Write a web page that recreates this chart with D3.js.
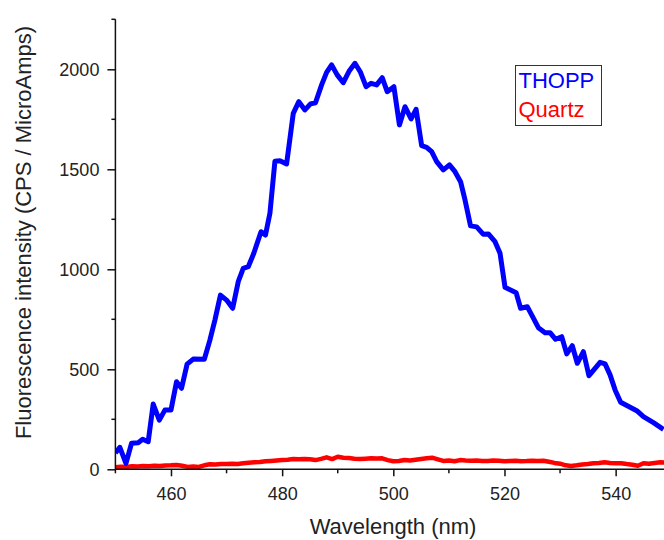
<!DOCTYPE html>
<html>
<head>
<meta charset="utf-8">
<script src="https://cdn.jsdelivr.net/npm/d3@7"></script>
<style>
  body { margin: 0; background: #fff; }
  text { font-family: "Liberation Sans", Arial, sans-serif; }
</style>
</head>
<body>
<div id="chart"></div>
<script>
// THOPP emission
let thoppNm = [450.0, 450.8, 451.9, 452.9, 454.1, 454.9, 455.9, 456.8, 457.9, 458.9,
    460.0, 461.0, 461.9, 462.9, 464.0, 466.0, 467.0, 467.9, 468.9, 470.0,
    471.1, 472.1, 473.0, 473.9, 474.9, 476.2, 477.0, 477.8, 478.7, 479.6,
    480.8, 482.0, 483.0, 484.1, 485.1, 486.0, 487.1, 488.0, 488.9, 489.9,
    491.0, 492.1, 493.1, 494.1, 495.1, 496.0, 497.0, 498.0, 498.9, 500.1,
    501.1, 502.1, 503.2, 504.1, 505.1, 506.0, 506.9, 507.8, 509.0, 510.1,
    511.1, 512.1, 512.9, 513.9, 515.0, 516.2, 517.1, 518.3, 519.2, 520.1,
    522.1, 522.9, 524.1, 526.1, 527.3, 528.2, 529.2, 530.3, 531.2, 532.2,
    533.1, 534.2, 535.2, 537.2, 538.1, 539.0, 539.9, 540.9, 543.8, 545.0,
    546.8, 548.6];
let thoppCps = [82, 110, 30, 130, 133, 150, 138, 326, 246, 296,
    296, 438, 405, 526, 551, 550, 646, 746, 871, 846,
    805, 938, 1005, 1013, 1080, 1188, 1171, 1280, 1540, 1543,
    1527, 1780, 1838, 1797, 1827, 1833, 1922, 1985, 2022, 1972,
    1933, 1993, 2030, 1985, 1913, 1930, 1922, 1958, 1888, 1913,
    1722, 1813, 1752, 1800, 1618, 1610, 1588, 1538, 1497, 1522,
    1488, 1438, 1347, 1217, 1212, 1175, 1177, 1138, 1080, 910,
    883, 805, 813, 708, 683, 683, 650, 663, 577, 618,
    530, 588, 468, 535, 527, 472, 397, 335, 293, 263,
    233, 200];

// Quartz background
let quartzNm = d3.range(450, 550, 1);
let quartzCps = [10, 13, 12, 15, 14, 17, 15, 18, 16, 19,
    20, 22, 18, 12, 14, 12, 20, 25, 24, 26,
    27, 28, 27, 30, 33, 35, 36, 40, 42, 44,
    46, 48, 51, 50, 52, 50, 46, 52, 60, 51,
    63, 58, 56, 53, 51, 53, 55, 54, 55, 46,
    40, 42, 46, 44, 48, 52, 55, 58, 50, 42,
    44, 40, 46, 44, 43, 44, 42, 42, 44, 43,
    40, 42, 43, 40, 41, 43, 42, 43, 38, 32,
    28, 20, 17, 20, 24, 26, 30, 32, 35, 32,
    30, 30, 26, 23, 18, 30, 28, 32, 35, 34];

let xMajor = [460, 480, 500, 520, 540];
let xMinor = [450, 470, 490, 510, 530];
let yMajor = [0, 500, 1000, 1500, 2000];
let yMinor = [250, 750, 1250, 1750, 2250];

let seriesNames = ["THOPP", "Quartz"];
let seriesColors = ["#0000ff", "#ff0000"];

let width = 664, height = 540;
let plotLeft = 115.4, plotTop = 19.3, plotRight = 664, plotBottom = 469.3;

let svg = d3.select("#chart").append("svg")
    .attr("width", width)
    .attr("height", height);

let x = d3.scaleLinear().domain([450, 548.7]).range([plotLeft, plotRight]);
let y = d3.scaleLinear().domain([0, 2250]).range([plotBottom, plotTop]);

svg.append("clipPath").attr("id", "plotclip")
    .append("rect")
    .attr("x", plotLeft).attr("y", 0)
    .attr("width", plotRight - plotLeft).attr("height", plotBottom + 4);

let line = d3.line()
    .x(d => x(d[0]))
    .y(d => y(d[1]));

let plot = svg.append("g").attr("clip-path", "url(#plotclip)");

plot.append("path")
    .datum(d3.zip(quartzNm, quartzCps))
    .attr("d", line)
    .attr("fill", "none")
    .attr("stroke", seriesColors[1])
    .attr("stroke-width", 4.5)
    .attr("stroke-linejoin", "round");

plot.append("path")
    .datum(d3.zip(thoppNm, thoppCps))
    .attr("d", line)
    .attr("fill", "none")
    .attr("stroke", seriesColors[0])
    .attr("stroke-width", 5)
    .attr("stroke-linejoin", "round");

// x axis
let xAxis = svg.append("g")
    .attr("transform", "translate(0," + plotBottom + ")")
    .call(d3.axisBottom(x).tickValues(xMajor).tickSize(7).tickPadding(11).tickFormat(d3.format("d")));
xAxis.append("g").selectAll("line").data(xMinor).join("line")
    .attr("x1", d => x(d)).attr("x2", d => x(d))
    .attr("y1", 0).attr("y2", 4)
    .attr("stroke", "#111").attr("stroke-width", 1.5);

// y axis
let yAxis = svg.append("g")
    .attr("transform", "translate(" + plotLeft + ",0)")
    .call(d3.axisLeft(y).tickValues(yMajor).tickSize(8).tickPadding(8).tickFormat(d3.format("d")));
yAxis.append("g").selectAll("line").data(yMinor).join("line")
    .attr("y1", d => y(d)).attr("y2", d => y(d))
    .attr("x1", 0).attr("x2", -4)
    .attr("stroke", "#111").attr("stroke-width", 1.5);

svg.selectAll(".domain")
    .attr("stroke", "#111")
    .attr("stroke-width", 1.5);
xAxis.select(".domain").attr("d", "M" + plotLeft + ",0H" + plotRight);
yAxis.select(".domain").attr("d", "M0," + plotBottom + "V" + plotTop);
svg.selectAll(".tick line").attr("stroke", "#111").attr("stroke-width", 1.5);
svg.selectAll(".tick text")
    .attr("fill", "#222")
    .style("font-size", "18px")
    .style("font-family", "'Liberation Sans', Arial, sans-serif");

// axis titles
svg.append("text")
    .attr("x", 393)
    .attr("y", 534)
    .attr("text-anchor", "middle")
    .attr("fill", "#222")
    .style("font-size", "22px")
    .text("Wavelength (nm)");

svg.append("text")
    .attr("transform", "translate(31,232.5) rotate(-90)")
    .attr("text-anchor", "middle")
    .attr("fill", "#222")
    .style("font-size", "22px")
    .text("Fluorescence intensity (CPS / MicroAmps)");

// legend
svg.append("rect")
    .attr("x", 515.5).attr("y", 65.5)
    .attr("width", 86).attr("height", 60)
    .attr("fill", "#fff")
    .attr("stroke", "#333")
    .attr("stroke-width", 1);

svg.selectAll(".legend").data(seriesNames).join("text")
    .attr("class", "legend")
    .attr("x", 518.5)
    .attr("y", (d, i) => 88 + i * 29)
    .attr("fill", (d, i) => seriesColors[i])
    .style("font-size", "22px")
    .text(d => d);
</script>
</body>
</html>
